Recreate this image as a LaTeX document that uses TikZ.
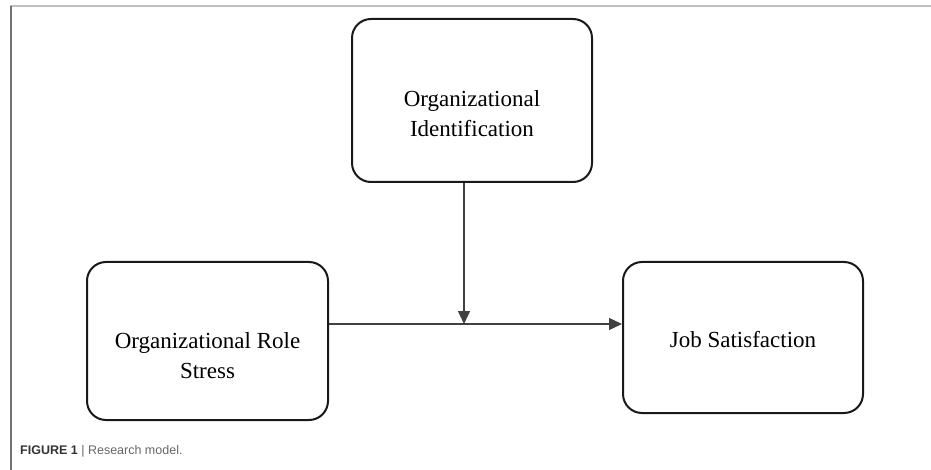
\documentclass[tikz,border=0pt]{standalone}
\usepackage{fontspec}
\setmainfont{Liberation Serif}
\newfontfamily\capfont{Liberation Sans}
\usetikzlibrary{arrows.meta,positioning,calc}
\begin{document}
\begin{tikzpicture}[x=1pt,y=-1pt,
  box/.style={draw=black!90, line width=2pt, rounded corners=19pt, minimum width=#1},
  boxtext/.style={font=\fontsize{23}{30}\selectfont, align=center, inner sep=0pt},
  conn/.style={draw=black!75, line width=1.4pt, -{Triangle[length=13pt,width=12pt]}},
  frameline/.style={line width=1.3pt}]
\useasboundingbox (0,0) rectangle (931,470);
% frame
\draw[frameline, black!25] (10,6) -- (931,6);
\draw[frameline, black!55] (11,6) -- (11,470);
% boxes
\node[box=240pt, minimum height=163pt,
  label={[boxtext, yshift=-13.5pt]center:Organizational\\Identification}] (oi) at (472,100.5) {};
\node[box=241pt, minimum height=158pt,
  label={[boxtext, yshift=-15pt]center:Organizational Role\\Stress}] (ors) at (207.5,341) {};
\node[box=240pt, minimum height=151pt,
  label={[boxtext, yshift=-2.5pt]center:Job Satisfaction}] (js) at (743,337.5) {};
% connectors
\coordinate (m) at (464,324);
\draw[conn] (oi.south -| m) -- (m);
\draw[conn] (ors.east |- m) -- (js.west |- m);
% caption
\node[anchor=base west, inner sep=0pt, font=\capfont\fontsize{12.5}{15}\selectfont] (cap) at (20,454)
  {\textcolor{black!80}{\textbf{FIGURE 1}} \textcolor{black!60}{| Research model.}};
\end{tikzpicture}
\end{document}
